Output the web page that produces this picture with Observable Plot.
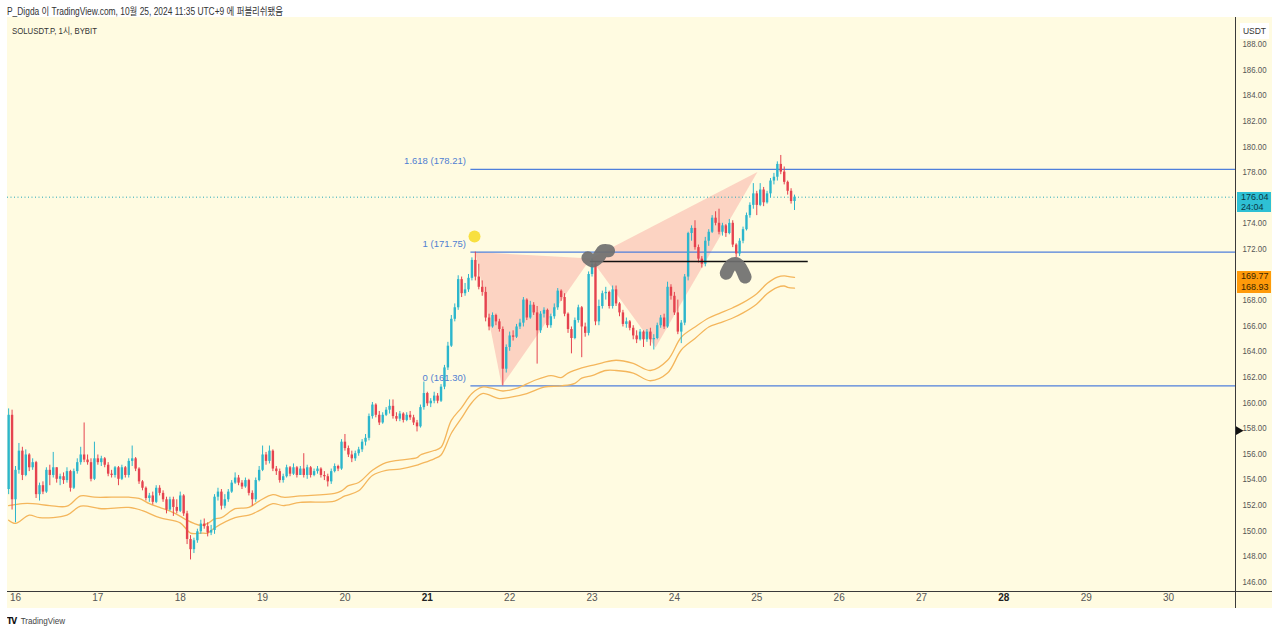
<!DOCTYPE html>
<html>
<head>
<meta charset="utf-8">
<script src="https://cdn.jsdelivr.net/npm/d3@7"></script>
<script src="https://cdn.jsdelivr.net/npm/@observablehq/plot@0.6"></script>
<style>
  html, body { margin: 0; padding: 0; background: #ffffff; }
  #wrap { position: relative; width: 1280px; height: 634px; overflow: hidden;
          font-family: "Liberation Sans", "Noto Sans CJK KR", sans-serif; }
  #panel { position: absolute; left: 7px; top: 17px; width: 1265px; height: 591px; background: #fffbe1; }
  #hline { position: absolute; left: 7px; top: 591px; width: 1265px; height: 1px; background: #3a3a3a; }
  #vline { position: absolute; left: 1235px; top: 17px; width: 1px; height: 591px; background: #3a3a3a; }
  #plotbox { position: absolute; left: 0; top: 0; }
  .sq { transform-origin: 0 0; }
  #header { position: absolute; left: 7px; top: 3px; font-size: 10px; color: #333; white-space: nowrap; transform: scaleX(0.84); }
  #symbol { position: absolute; left: 12px; top: 23px; font-size: 9.5px; color: #333; white-space: nowrap; transform: scaleX(0.82); }
  #footer { position: absolute; left: 7px; top: 615px; font-size: 9.5px; color: #444; white-space: nowrap; transform: scaleX(0.85); }
  #footer b { color: #111; font-family: "DejaVu Sans", sans-serif; font-size: 9px; letter-spacing: -1px; margin-right: 5px; }
  .tag { position: absolute; left: 1237px; width: 34px; font-size: 9px; line-height: 10px; padding-left: 4px; box-sizing: border-box; white-space: nowrap; }
  #usdt { position: absolute; left: 1240px; top: 23px; width: 29px; height: 16px; background: #fff; font-size: 8.5px; color: #333; text-align: center; line-height: 16px; }
</style>
</head>
<body>
<div id="wrap">
  <div id="panel"></div>
  <div id="header" class="sq">P_Digda 이 TradingView.com, 10월 25, 2024 11:35 UTC+9 에 퍼블리쉬됐음</div>
  <div id="plotbox"></div>
  <div id="hline"></div>
  <div id="vline"></div>
  <div id="symbol" class="sq">SOLUSDT.P, 1시, BYBIT</div>
  <div id="usdt">USDT</div>
  <div id="footer" class="sq"><b>TV</b>TradingView</div>
</div>
<script>
// ---------- DATA (hours counted from Oct 16 00:00, UTC+9) ----------
const candleStart = -2;          // first hourly candle: Oct 15 22:00
const firstOpen = 153.2;

const closes = [
  159.0,152.4,154.7,156.2,154.3,155.9,154.9,155.3,152.8,153.5,
  153.0,154.7,154.3,154.9,154.0,154.2,153.9,154.6,153.3,154.6,
  155.3,155.9,155.5,155.3,154.0,155.6,155.3,155.6,155.1,154.4,
  154.3,154.9,154.0,154.9,154.3,155.4,155.6,154.8,153.8,153.3,
  152.5,152.7,152.2,153.3,152.9,152.4,151.6,152.4,151.8,151.5,
  152.7,151.3,149.3,148.5,149.2,149.9,150.5,150.3,149.8,150.0,
  152.6,153.0,151.9,152.4,153.0,153.7,154.1,153.7,153.4,153.9,
  152.9,152.4,153.9,154.7,155.9,155.4,156.2,154.8,154.6,153.9,
  154.2,154.9,154.4,154.9,154.3,154.8,154.3,154.9,154.3,154.6,
  154.8,154.3,154.2,153.8,154.6,155.0,154.8,156.9,156.4,155.9,
  155.6,156.0,156.3,156.9,157.2,158.9,159.8,159.0,158.4,159.0,
  159.4,159.7,158.9,158.7,159.1,158.6,159.0,158.8,158.4,158.1,
  159.6,160.7,159.9,160.1,160.5,160.1,161.2,162.7,164.4,166.5,
  167.4,169.6,168.5,168.8,169.7,171.1,169.8,169.0,168.6,166.6,
  165.9,166.8,166.3,165.7,162.6,164.3,165.2,165.1,165.9,166.2,
  168.0,166.6,167.6,167.0,165.6,166.9,167.2,166.0,166.7,167.4,
  168.7,168.2,166.9,165.7,165.0,166.4,167.4,165.9,165.4,170.0,
  170.8,166.3,167.5,168.5,168.6,167.5,168.8,167.7,167.0,166.1,
  166.3,165.8,165.2,164.9,165.5,164.9,165.5,164.9,165.0,166.0,
  166.6,165.9,169.0,168.3,167.0,165.5,166.2,169.8,173.2,173.6,
  172.1,171.2,170.8,172.6,173.3,174.4,174.0,173.3,173.8,173.2,
  174.0,172.3,171.6,172.6,173.5,174.6,175.4,176.3,175.4,176.6,
  175.6,176.3,177.3,177.6,178.6,178.0,177.2,176.5,175.7,176.04
];
const highs = [
  159.5,159.4,155.0,156.8,156.5,156.3,156.0,155.6,155.4,153.7,
  153.8,154.9,155.1,156.1,154.9,154.4,154.5,154.9,154.7,154.8,
  155.6,156.5,158.4,155.9,155.6,156.9,155.9,155.8,155.7,155.3,
  154.7,155.0,155.0,155.1,155.0,155.6,156.6,155.7,154.9,153.9,
  153.4,152.9,153.0,153.5,153.5,153.1,152.6,152.6,152.6,152.4,
  153.0,152.8,151.5,149.6,149.4,150.1,150.8,150.9,150.6,150.4,
  152.8,153.3,153.2,152.8,153.2,153.9,154.5,154.3,153.9,154.1,
  154.0,153.1,154.1,155.0,156.6,156.1,156.6,156.3,155.0,154.8,
  154.4,155.1,155.0,155.2,155.0,155.0,156.0,155.1,155.0,154.8,
  155.0,154.9,154.6,154.4,154.8,155.2,155.1,157.1,157.5,156.6,
  156.2,156.2,156.5,157.1,157.5,159.1,160.0,159.9,159.3,159.2,
  159.6,160.2,160.2,159.2,159.3,159.2,159.2,159.3,159.0,158.6,
  159.8,161.6,160.8,160.3,160.8,160.7,161.4,162.9,164.7,166.8,
  167.7,169.9,169.8,169.3,170.0,171.3,171.75,170.8,169.5,169.0,
  166.9,167.0,166.9,166.5,165.9,164.5,165.5,165.6,166.1,166.5,
  168.2,168.1,167.9,167.8,167.5,167.1,167.4,167.3,166.9,167.7,
  168.9,168.8,168.5,167.0,165.9,166.6,167.6,167.5,166.2,170.2,
  171.2,170.9,168.0,168.7,169.0,168.7,169.1,169.1,167.8,167.2,
  166.6,166.4,166.0,165.6,165.7,165.6,165.7,165.8,165.3,166.2,
  166.8,166.9,169.4,169.2,168.6,168.0,166.4,170.0,173.3,173.8,
  174.2,172.3,171.4,172.9,173.5,174.6,174.9,175.1,174.0,173.9,
  174.3,174.2,172.4,172.8,173.7,174.8,175.6,177.1,176.5,177.1,
  176.8,176.5,177.5,177.9,178.8,179.3,178.4,177.3,176.7,176.2
];
const lows = [
  152.8,151.6,150.6,154.4,153.9,154.2,154.6,154.7,152.5,152.3,
  152.8,152.9,153.5,154.1,153.7,153.5,153.6,153.7,153.0,153.2,
  154.4,155.1,155.3,155.1,153.8,153.9,155.1,155.0,154.9,154.2,
  154.1,154.1,153.5,153.9,154.1,154.1,155.0,154.6,153.6,153.1,
  152.3,152.2,152.0,152.1,152.7,152.2,151.3,151.5,151.1,151.3,
  151.4,151.1,148.9,147.7,148.2,149.0,149.7,150.1,149.5,149.6,
  149.7,152.3,151.6,151.7,152.2,152.9,153.6,153.5,153.2,153.3,
  152.7,151.9,152.2,153.8,154.6,155.1,155.2,154.6,154.3,153.7,
  153.7,154.1,154.2,154.3,154.1,154.3,154.1,154.0,154.1,154.2,
  154.4,154.1,153.9,153.4,153.6,154.5,154.6,154.7,156.2,155.7,
  155.3,155.4,155.8,156.1,156.6,157.0,158.7,158.8,158.2,158.3,
  158.9,159.1,158.7,158.5,158.5,158.4,158.5,158.6,158.2,157.7,
  158.0,159.4,159.7,159.6,159.9,159.9,160.0,161.0,162.5,164.3,
  166.3,167.2,168.2,168.3,168.6,169.5,169.5,168.8,168.3,166.3,
  165.6,165.8,166.0,165.5,161.3,162.3,164.0,164.8,165.0,165.7,
  165.9,166.4,166.5,166.8,163.0,165.4,166.6,165.8,165.8,166.5,
  167.2,167.9,166.7,165.4,163.8,164.9,166.2,163.5,165.1,165.2,
  169.8,166.0,166.0,167.3,168.0,167.3,167.3,167.5,166.7,165.9,
  165.8,165.6,164.9,164.6,164.8,164.3,164.7,164.4,164.1,164.9,
  165.8,165.7,165.8,168.0,166.8,165.3,164.6,166.0,169.5,172.6,
  171.9,170.9,170.5,170.6,172.2,173.2,173.8,173.1,173.0,172.9,
  173.1,172.1,171.3,171.4,172.4,173.4,174.4,175.1,174.6,175.3,
  175.3,175.5,176.0,177.0,177.3,177.8,177.0,176.2,175.5,175.0
];

// orange channel lines (sampled)
const upperHours = [-2,2,5,10,15,19,23,28,33,36,39,42,46,50,52,54,56,58,60,64,68,71,75,78,83,93,95,97,100,104,108,112,117,118,122,124,127,130,133,136,139,142,146,151,156,159,161,165,168,171,175,180,185,190,194,198,202,205,209,212,216,219,222,224,225,227];
const upperVals  = [151.95,152.1,152.1,151.95,151.9,152.7,152.6,152.6,152.6,152.5,152.1,151.8,151.4,150.8,150.55,150.4,150.55,150.9,151.0,151.7,151.8,152.3,152.8,152.6,152.7,152.9,153.1,153.5,153.75,154.7,155.3,155.5,155.7,155.9,156.25,156.5,158.6,159.6,160.7,161.2,161.1,160.9,161.1,161.7,162.1,161.95,162.3,162.7,162.9,163.1,163.3,163.05,162.5,163.3,165.1,165.9,166.6,166.95,167.4,167.8,168.5,169.3,169.8,169.9,169.85,169.77];
const lowerHours = [-2,0,4,7,15,19,25,33,37,42,48,51,54,56,58,64,68,71,75,78,83,93,96,100,104,108,112,117,118,122,124,127,130,133,136,141,144,149,154,159,163,165,168,172,175,180,185,190,194,198,202,205,209,212,216,219,222,224,225,227];
const lowerVals  = [150.8,150.55,151.2,151.0,151.2,151.9,151.7,151.8,151.55,151.0,150.6,149.8,149.8,149.8,150.2,151.0,151.2,151.55,152.1,151.95,152.2,152.3,152.7,153.1,154.3,154.7,154.8,155.1,155.2,155.6,155.9,157.6,158.8,160.0,160.7,160.3,160.4,160.7,161.2,161.3,161.5,161.9,162.1,162.5,162.5,162.3,161.7,162.3,164.1,165.0,165.9,166.2,166.6,167.0,167.7,168.5,169.0,169.1,169.0,168.93];

// Fibonacci levels
const fibLabels = ["1.618 (178.21)", "1 (171.75)", "0 (161.30)"];
const fibValues = [178.21, 171.75, 161.30];
const fibStartHour = 132.7;

// harmonic pattern triangles [hour, price]
const triangle1 = [[134, 171.75], [141.7, 161.3], [167.6, 171.25]];
const triangle2 = [[167.6, 171.25], [186.5, 164.3], [216.2, 178.0]];

// drawn annotations
const blob1 = [[166.8, 171.3], [168.3, 171.05], [169.9, 171.35], [171.2, 171.85], [172.8, 171.85]];
const blob2 = [[207.1, 170.1], [208.6, 170.75], [210.4, 170.8], [212.6, 169.8]];
const blackLineHours = [167.5, 231];
const blackLinePrice = 171.02;
const yellowDot = [133.75, 172.97];
const alertPrice = 157.8;

// price tags
const lastPrice = 176.04;
const lastCountdown = "24:04";
const bandTagValues = [169.77, 168.93];

// axes
const dayLabels = ["16","17","18","19","20","21","22","23","24","25","26","27","28","29","30"];
const boldDays = ["21", "28"];
const yTicks = [146,148,150,152,154,156,158,160,162,164,166,168,170,172,174,178,180,182,184,186,188];

// ---------- BUILD ----------
const candles = closes.map((c, i) => {
  const o = i === 0 ? firstOpen : closes[i - 1];
  return {h: candleStart + i, open: o, close: c,
          high: Math.max(highs[i], o, c), low: Math.min(lows[i], o, c)};
});
const UP = "#2cb6cc", DOWN = "#e5434f";
const colorOf = d => d.close >= d.open ? UP : DOWN;
const bodies = candles.map(d => {
  let lo = Math.min(d.open, d.close), hi = Math.max(d.open, d.close);
  if (hi - lo < 0.08) { const m = (hi + lo) / 2; lo = m - 0.04; hi = m + 0.04; }
  return {...d, lo, hi};
});
const upper = upperHours.map((h, i) => ({h, p: upperVals[i]}));
const lower = lowerHours.map((h, i) => ({h, p: lowerVals[i]}));
const fibs = fibValues.map((v, i) => ({v, label: fibLabels[i]}));
const days = dayLabels.map((l, i) => ({h: i * 24, label: l}));
const toPts = a => a.map(([h, p]) => ({h, p}));

const xMin = -2.331, xMax = 355.5;
const FONT = '"Liberation Sans", sans-serif';

const plot = Plot.plot({
  width: 1280, height: 634,
  marginLeft: 7, marginRight: 45, marginTop: 17, marginBottom: 43,
  x: {domain: [xMin, xMax], axis: null},
  y: {domain: [145.234, 190.078], axis: null},
  style: {background: "transparent", fontFamily: FONT, fontSize: "9.5px", overflow: "visible"},
  marks: [
    Plot.line(toPts(triangle1), {x: "h", y: "p", fill: "#f23645", fillOpacity: 0.2, stroke: "none"}),
    Plot.line(toPts(triangle2), {x: "h", y: "p", fill: "#f23645", fillOpacity: 0.2, stroke: "none"}),
    Plot.ruleY(fibs, {y: "v", x1: fibStartHour, x2: xMax, stroke: "#4f7fdb", strokeWidth: 1.1}),
    Plot.ruleY([lastPrice], {stroke: "#22a7b8", strokeWidth: 1, strokeDasharray: "1,2.5"}),
    Plot.line(upper, {x: "h", y: "p", stroke: "#f4b65c", strokeWidth: 1.3, curve: "catmull-rom"}),
    Plot.line(lower, {x: "h", y: "p", stroke: "#f4b65c", strokeWidth: 1.3, curve: "catmull-rom"}),
    Plot.ruleX(candles, {x: "h", y1: "low", y2: "high", stroke: colorOf, strokeWidth: 1}),
    Plot.ruleX(bodies, {x: "h", y1: "lo", y2: "hi", stroke: colorOf, strokeWidth: 2.4}),
    Plot.ruleY([blackLinePrice], {x1: blackLineHours[0], x2: blackLineHours[1], stroke: "#111", strokeWidth: 1.5}),
    Plot.line(toPts(blob1), {x: "h", y: "p", stroke: "#6f6f6f", strokeOpacity: 0.92, strokeWidth: 13, strokeLinecap: "round", strokeLinejoin: "round", curve: "catmull-rom"}),
    Plot.line(toPts(blob2), {x: "h", y: "p", stroke: "#6f6f6f", strokeOpacity: 0.92, strokeWidth: 13, strokeLinecap: "round", strokeLinejoin: "round", curve: "catmull-rom"}),
    Plot.dot([yellowDot], {x: d => d[0], y: d => d[1], r: 6, fill: "#f8e040", stroke: "none"}),
    Plot.text(fibs, {x: fibStartHour, y: "v", text: "label", textAnchor: "end", dx: -5, dy: -8, fill: "#4f80d2", fontSize: 9.5}),
    Plot.text(days.filter(d => !boldDays.includes(d.label)), {x: "h", text: "label", frameAnchor: "bottom", dy: 9, fill: "#555", fontSize: 10}),
    Plot.text(days.filter(d => boldDays.includes(d.label)), {x: "h", text: "label", frameAnchor: "bottom", dy: 9, fill: "#222", fontSize: 10, fontWeight: "bold"}),
    Plot.text(yTicks, {y: d => d, text: d => d.toFixed(2), frameAnchor: "right", dx: 7, textAnchor: "start", fill: "#555", fontSize: 9.5}),
    Plot.dot([alertPrice], {x: xMax, y: d => d, symbol: "triangle", rotate: 90, r: 3.2, fill: "#111", stroke: "none", dx: 3})
  ]
});
document.getElementById("plotbox").appendChild(plot);

// condense the price-axis labels to the reference's narrow face
d3.select(plot).selectAll("text")
  .filter(function() { return /^\d{3}\.\d\d$/.test(this.textContent); })
  .attr("textLength", 24).attr("lengthAdjust", "spacingAndGlyphs");

// price tags positioned through the y scale
const ys = plot.scale("y");
const wrap = document.getElementById("wrap");
function addTag(topPx, heightPx, bg, color, html) {
  const d = document.createElement("div");
  d.className = "tag";
  d.style.top = topPx + "px";
  d.style.height = heightPx + "px";
  d.style.background = bg;
  d.style.color = color;
  d.innerHTML = html;
  wrap.appendChild(d);
}
const yl = ys.apply(lastPrice);
addTag(yl - 5, 20, "#2ec0d4", "#0c3945", lastPrice.toFixed(2) + "<br>" + lastCountdown);
bandTagValues.forEach(v => {
  const y = ys.apply(v);
  addTag(y - 5.5, 11, "#ff9a0a", "#3a2600", v.toFixed(2));
});
</script>
</body>
</html>
